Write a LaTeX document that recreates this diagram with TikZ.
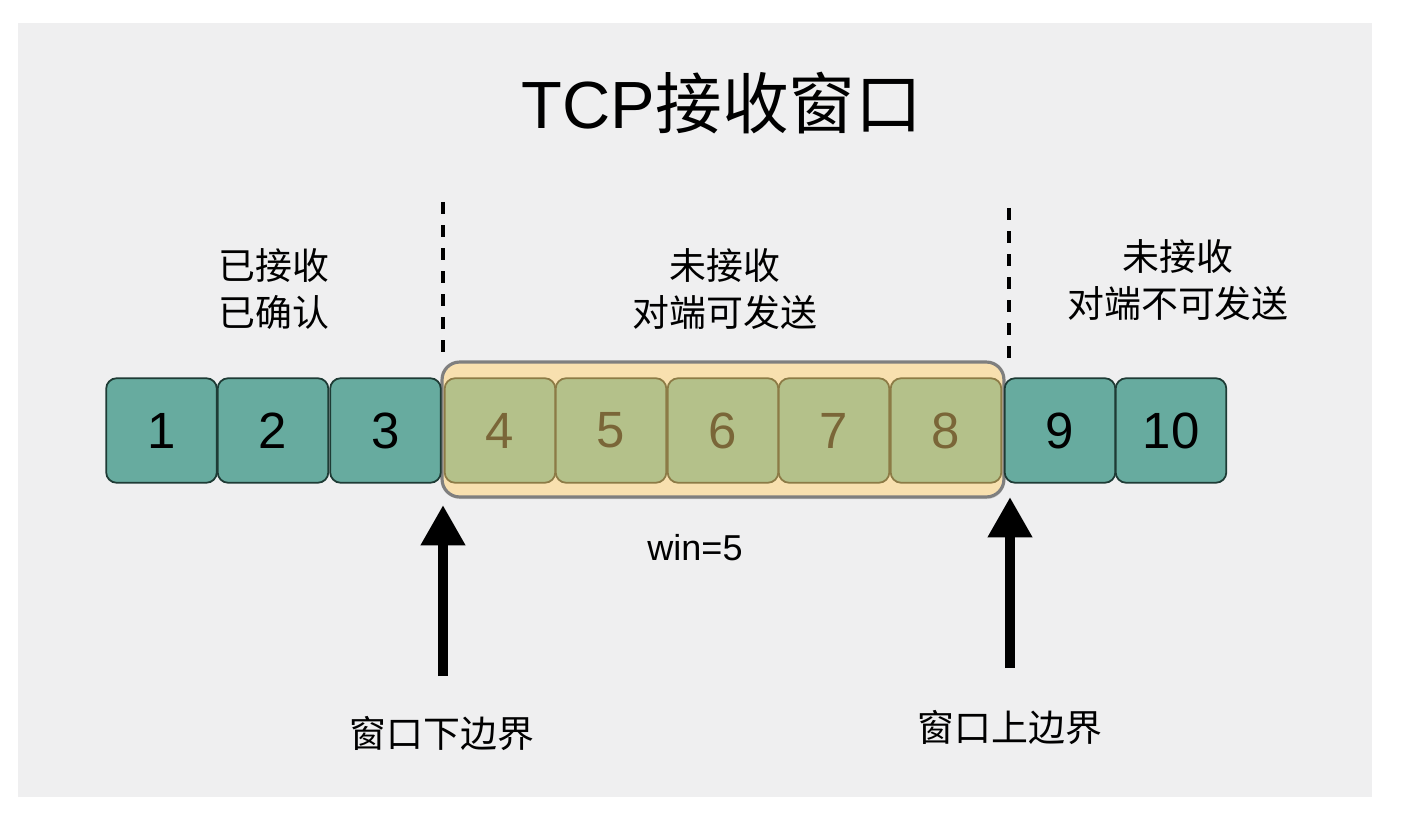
\documentclass[tikz,border=0pt]{standalone}
\usepackage{fontspec}
\setmainfont{Liberation Sans}
\newfontfamily\cjk{Noto Sans CJK SC}
\usetikzlibrary{arrows.meta,shadows}
\definecolor{bggray}{HTML}{EFEFF0}
\definecolor{tealfill}{HTML}{67AB9F}
\definecolor{tealline}{HTML}{1E3B35}
\definecolor{olivefill}{HTML}{B4C18A}
\definecolor{oliveline}{HTML}{8C7B46}
\definecolor{olivetext}{HTML}{7A6638}
\definecolor{winfill}{HTML}{F8E0AF}
\definecolor{winline}{HTML}{7F7F7F}
\tikzset{
	seg/.style={rounded corners=6pt,line width=1pt,minimum width=63pt,minimum height=59.5pt,inner sep=0pt,font=\fontsize{29}{32}\selectfont},
	done/.style={seg,draw=tealline,fill=tealfill},
	open/.style={seg,draw=oliveline,fill=olivefill,text=olivetext},
	winbox/.style={draw=winline,fill=winfill,line width=1.8pt,rounded corners=10pt,minimum width=319.8pt,minimum height=76.8pt,inner sep=0pt,drop shadow={opacity=0.25,shadow xshift=0.4pt,shadow yshift=-1.2pt}},
	zone/.style={align=center,font=\cjk\fontsize{21}{27}\selectfont},
	cut/.style={line width=2.1pt,dash pattern=on 6.8pt off 6.3pt},
	bound/.style={line width=5.7pt,-{Triangle[width=24pt,length=23pt]}}
}
\begin{document}
\begin{tikzpicture}[x=0.02cm,y=-0.02cm]
	\useasboundingbox (0,0) rectangle (1406,814);
	\fill[bggray] (18,23) rectangle (1372,797);
	\node (title) at (722,103) {\fontsize{38}{42}\selectfont TCP{\cjk 接收窗口}};
	% 接收窗口
	\node[winbox] (win) at (723,429.5) {};
	\foreach \n/\x in {1/161.5,2/273,3/385.5,9/1060,10/1171}
		\node[done] (b\n) at (\x,430.5) {\n};
	\foreach \n/\x in {4/500,5/611,6/723,7/834,8/946}
		\node[open] (b\n) at (\x,430.5) {\n};
	\node[zone] (acked) at (274,289) {已接收\\已确认};
	\node[zone] (cansend) at (725,289) {未接收\\对端可发送};
	\node[zone] (nosend) at (1178,280) {未接收\\对端不可发送};
	\draw[cut] (443,202) -- (443,352);
	\draw[cut] (1009,208) -- (1009,358);
	\node (winsize) at (695,548) {\fontsize{20.5}{24}\selectfont win=5};
	% 边界
	\coordinate (lowtail) at (443,676);
	\coordinate (lowtip) at (443,505);
	\coordinate (uptail) at (1010,668);
	\coordinate (uptip) at (1010,497);
	\draw[bound] (lowtail) -- (lowtip);
	\draw[bound] (uptail) -- (uptip);
	\node[zone] (lowlbl) at (442,733) {窗口下边界};
	\node[zone] (uplbl) at (1010,727) {窗口上边界};
\end{tikzpicture}
\end{document}
